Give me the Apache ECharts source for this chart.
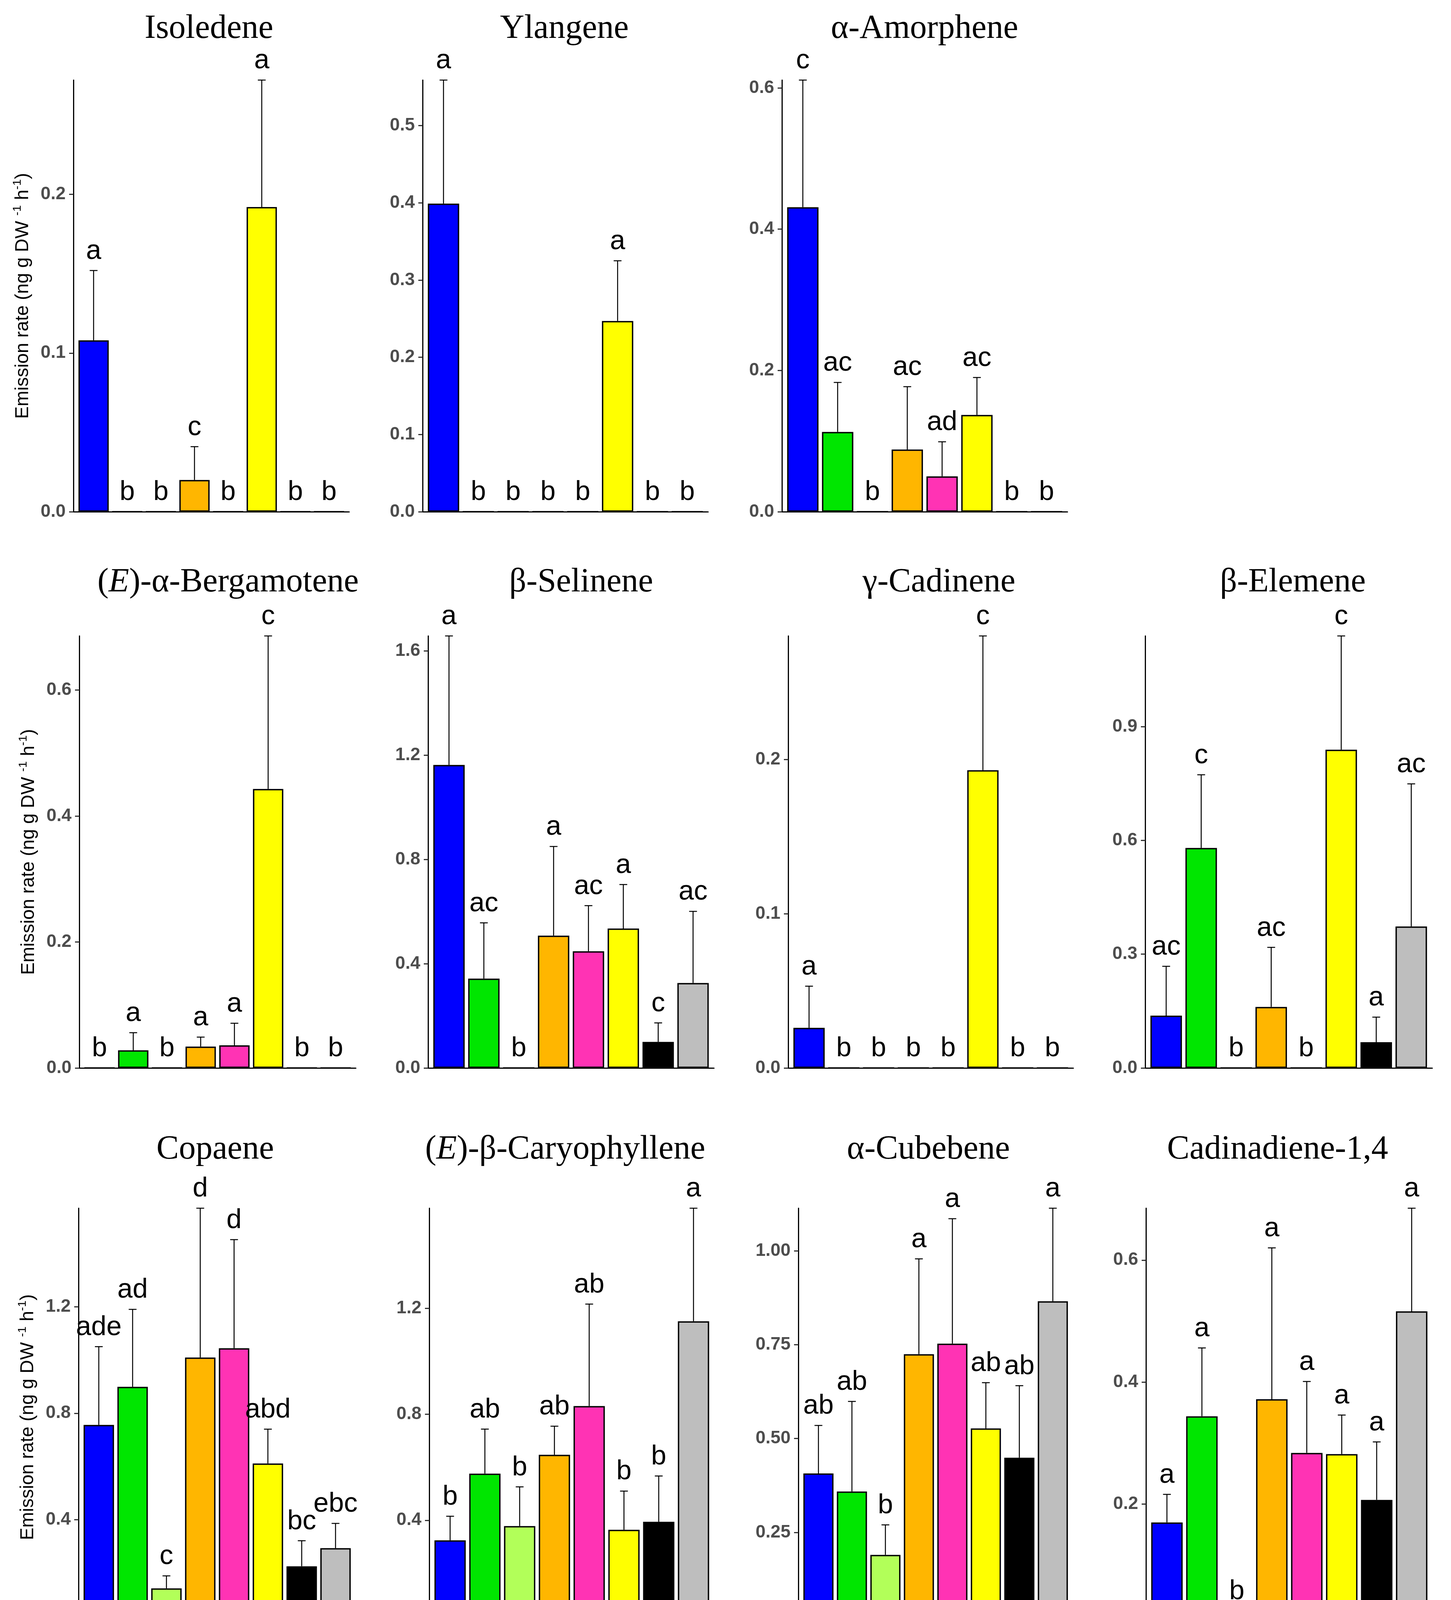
<!DOCTYPE html>
<html>
<head>
<meta charset="utf-8">
<script src="https://cdn.jsdelivr.net/npm/echarts@6/dist/echarts.min.js"></script>
<style>
  html, body { margin: 0; padding: 0; background: #fff; overflow: hidden; }
  #main { width: 3715px; height: 4482px; }
</style>
</head>
<body>
<div id="main"></div>
<script>
// ====== data ======
var categories = ['Blue', 'Lime green', 'Mint green', 'Orange', 'Pink', 'Yellow', 'CVT2', 'CVT4'];
var barColors = ['#0000FF', '#00E600', '#B2FF59', '#FFB600', '#FF33B4', '#FFFF00', '#000000', '#BEBEBE'];

var isoledeneMean = [0.108, 0, 0, 0.020, 0, 0.192, 0, 0];
var isoledeneSe = [0.044, 0, 0, 0.021, 0, 0.080, 0, 0];
var isoledeneLetters = ['a', 'b', 'b', 'c', 'b', 'a', 'b', 'b'];

var ylangeneMean = [0.399, 0, 0, 0, 0, 0.247, 0, 0];
var ylangeneSe = [0.160, 0, 0, 0, 0, 0.078, 0, 0];
var ylangeneLetters = ['a', 'b', 'b', 'b', 'b', 'a', 'b', 'b'];

var amorpheneMean = [0.431, 0.113, 0, 0.088, 0.050, 0.137, 0, 0];
var amorpheneSe = [0.180, 0.070, 0, 0.089, 0.049, 0.053, 0, 0];
var amorpheneLetters = ['c', 'ac', 'b', 'ac', 'ad', 'ac', 'b', 'b'];

var bergamoteneMean = [0, 0.028, 0, 0.034, 0.036, 0.443, 0, 0];
var bergamoteneSe = [0, 0.028, 0, 0.015, 0.035, 0.243, 0, 0];
var bergamoteneLetters = ['b', 'a', 'b', 'a', 'a', 'c', 'b', 'b'];

var selineneMean = [1.163, 0.343, 0, 0.508, 0.448, 0.535, 0.100, 0.326];
var selineneSe = [0.495, 0.214, 0, 0.342, 0.175, 0.169, 0.073, 0.275];
var selineneLetters = ['a', 'ac', 'b', 'a', 'ac', 'a', 'c', 'ac'];

var cadineneMean = [0.026, 0, 0, 0, 0, 0.193, 0, 0];
var cadineneSe = [0.027, 0, 0, 0, 0, 0.087, 0, 0];
var cadineneLetters = ['a', 'b', 'b', 'b', 'b', 'c', 'b', 'b'];

var elemeneMean = [0.138, 0.580, 0, 0.161, 0, 0.839, 0.068, 0.373];
var elemeneSe = [0.130, 0.193, 0, 0.157, 0, 0.300, 0.066, 0.376];
var elemeneLetters = ['ac', 'c', 'b', 'ac', 'b', 'c', 'a', 'ac'];

var copaeneMean = [0.756, 0.899, 0.142, 1.009, 1.044, 0.611, 0.225, 0.293];
var copaeneSe = [0.294, 0.291, 0.047, 0.561, 0.408, 0.129, 0.096, 0.093];
var copaeneLetters = ['ade', 'ad', 'c', 'd', 'd', 'abd', 'bc', 'ebc'];

var caryophylleneMean = [0.324, 0.576, 0.378, 0.647, 0.831, 0.364, 0.394, 1.151];
var caryophylleneSe = [0.091, 0.168, 0.148, 0.108, 0.385, 0.146, 0.173, 0.427];
var caryophylleneLetters = ['b', 'ab', 'b', 'ab', 'ab', 'b', 'b', 'a'];

var cubebeneMean = [0.407, 0.359, 0.190, 0.725, 0.753, 0.527, 0.449, 0.866];
var cubebeneSe = [0.128, 0.240, 0.080, 0.254, 0.333, 0.122, 0.192, 0.248];
var cubebeneLetters = ['ab', 'ab', 'b', 'a', 'a', 'ab', 'ab', 'a'];

var cadinadieneMean = [0.170, 0.344, 0.012, 0.372, 0.284, 0.282, 0.207, 0.516];
var cadinadieneSe = [0.046, 0.112, 0.013, 0.248, 0.117, 0.064, 0.095, 0.169];
var cadinadieneLetters = ['a', 'a', 'b', 'a', 'a', 'a', 'a', 'a'];

// y tick values
var ticksTenth = [0, 0.1, 0.2];
var ticksYlangene = [0, 0.1, 0.2, 0.3, 0.4, 0.5];
var ticksFifth = [0, 0.2, 0.4, 0.6];
var ticksSelinene = [0, 0.4, 0.8, 1.2, 1.6];
var ticksElemene = [0, 0.3, 0.6, 0.9];
var ticksCopaene = [0, 0.4, 0.8, 1.2];
var ticksCubebene = [0, 0.25, 0.5, 0.75, 1.0];

// ====== panels: data refs + layout (box = left, top, right, bottom; tpos = title centre) ======
var panels = [
  {title: 'Isoledene', mean: isoledeneMean, se: isoledeneSe, letters: isoledeneLetters, ticks: ticksTenth, dec: 1,
   box: [188, 205, 894, 1310], tpos: [535, 74], yTitle: true, xLabels: false},
  {title: 'Ylangene', mean: ylangeneMean, se: ylangeneSe, letters: ylangeneLetters, ticks: ticksYlangene, dec: 1,
   box: [1082, 205, 1813, 1310], tpos: [1445, 74], yTitle: false, xLabels: false},
  {title: 'α-Amorphene', mean: amorpheneMean, se: amorpheneSe, letters: amorpheneLetters, ticks: ticksFifth, dec: 1,
   box: [2002, 205, 2733, 1310], tpos: [2367, 74], yTitle: false, xLabels: false},

  {title: '({it|E})-α-Bergamotene', mean: bergamoteneMean, se: bergamoteneSe, letters: bergamoteneLetters, ticks: ticksFifth, dec: 1,
   box: [203, 1628, 911, 2734], tpos: [584, 1491], yTitle: true, xLabels: false},
  {title: 'β-Selinene', mean: selineneMean, se: selineneSe, letters: selineneLetters, ticks: ticksSelinene, dec: 1,
   box: [1096, 1628, 1828, 2734], tpos: [1488, 1491], yTitle: false, xLabels: false},
  {title: 'γ-Cadinene', mean: cadineneMean, se: cadineneSe, letters: cadineneLetters, ticks: ticksTenth, dec: 1,
   box: [2018, 1628, 2748, 2734], tpos: [2404, 1491], yTitle: false, xLabels: false},
  {title: 'β-Elemene', mean: elemeneMean, se: elemeneSe, letters: elemeneLetters, ticks: ticksElemene, dec: 1,
   box: [2932, 1628, 3667, 2734], tpos: [3310, 1491], yTitle: false, xLabels: false},

  {title: 'Copaene', mean: copaeneMean, se: copaeneSe, letters: copaeneLetters, ticks: ticksCopaene, dec: 1,
   box: [201, 3093, 911, 4163], tpos: [551, 2943], yTitle: true, xLabels: true},
  {title: '({it|E})-β-Caryophyllene', mean: caryophylleneMean, se: caryophylleneSe, letters: caryophylleneLetters, ticks: ticksCopaene, dec: 1,
   box: [1099, 3093, 1829, 4163], tpos: [1447, 2943], yTitle: false, xLabels: true},
  {title: 'α-Cubebene', mean: cubebeneMean, se: cubebeneSe, letters: cubebeneLetters, ticks: ticksCubebene, dec: 2,
   box: [2044, 3093, 2747, 4163], tpos: [2377, 2943], yTitle: false, xLabels: true},
  {title: 'Cadinadiene-1,4', mean: cadinadieneMean, se: cadinadieneSe, letters: cadinadieneLetters, ticks: ticksFifth, dec: 1,
   box: [2934, 3093, 3668, 4163], tpos: [3271, 2943], yTitle: false, xLabels: true}
];

var SANS = '"Liberation Sans", Arial, sans-serif';
var SERIF = '"Liberation Serif", "Times New Roman", serif';
var catIndex = categories.map(function (c, i) { return i; });

// 误差线 + 显著性字母
function makeErrorRenderer(p) {
  return function (params, api) {
    var i = api.value(0);
    var m = api.value(1);
    var e = api.value(2);
    var base = api.coord([i, m]);
    var top = api.coord([i, m + e]);
    var kids = [];
    if (e > 0) {
      kids.push({type: 'line', shape: {x1: base[0], y1: base[1], x2: top[0], y2: top[1]},
                 style: {stroke: '#000', lineWidth: 2.5}});
      kids.push({type: 'line', shape: {x1: top[0] - 10, y1: top[1], x2: top[0] + 10, y2: top[1]},
                 style: {stroke: '#000', lineWidth: 2.5}});
    }
    kids.push({type: 'text', style: {x: top[0], y: top[1] - 14, text: p.letters[params.dataIndex],
               align: 'center', verticalAlign: 'bottom', fill: '#000', fontSize: 70, fontFamily: SANS}});
    return {type: 'group', children: kids};
  };
}

var titles = [], grids = [], xAxes = [], yAxes = [], series = [];

panels.forEach(function (p, k) {
  var ymax = 0;
  p.mean.forEach(function (m, i) { ymax = Math.max(ymax, m + p.se[i]); });
  // ggplot discrete axis: 0.6 unit padding each side
  var unit = (p.box[2] - p.box[0]) / (categories.length + 0.2);

  titles.push({
    text: p.title,
    left: p.tpos[0], top: p.tpos[1],
    textAlign: 'center', textVerticalAlign: 'middle', padding: 0,
    textStyle: {
      fontFamily: SERIF, fontSize: 86, fontWeight: 'normal', color: '#000',
      rich: {it: {fontFamily: SERIF, fontSize: 86, fontStyle: 'italic', color: '#000'}}
    }
  });

  grids.push({left: p.box[0], top: p.box[1], width: p.box[2] - p.box[0], height: p.box[3] - p.box[1]});

  xAxes.push({
    type: 'value', gridIndex: k, min: -0.6, max: categories.length - 0.4,
    splitLine: {show: false},
    axisLine: {onZero: false, lineStyle: {color: '#000', width: 3}},
    axisTick: {show: p.xLabels, customValues: catIndex, length: 12, lineStyle: {color: '#333', width: 3}},
    axisLabel: {
      show: p.xLabels, customValues: catIndex, rotate: 90, align: 'center', verticalAlign: 'middle', margin: 151,
      formatter: function (v) { return categories[Math.round(v)]; },
      fontFamily: SANS, fontSize: 47, fontWeight: 'bold', color: '#4D4D4D'
    }
  });

  var yAxis = {
    type: 'value', gridIndex: k, min: 0, max: ymax,
    splitLine: {show: false},
    axisLine: {show: true, onZero: false, lineStyle: {color: '#000', width: 3}},
    axisTick: {show: true, length: 11, customValues: p.ticks, lineStyle: {color: '#333', width: 3}},
    axisLabel: {
      customValues: p.ticks, margin: 20,
      formatter: (function (d) { return function (v) { return v.toFixed(d); }; })(p.dec),
      fontFamily: SANS, fontSize: 46, fontWeight: 'bold', color: '#4D4D4D'
    }
  };
  if (p.yTitle) {
    yAxis.name = '{t|Emission rate (ng g DW }{s|-1}{t| h}{s|-1}{t|)}';
    yAxis.nameLocation = 'middle';
    yAxis.nameRotate = 90;
    yAxis.nameGap = 100;
    yAxis.nameTextStyle = {
      rich: {
        t: {fontFamily: SANS, fontSize: 48, color: '#000', lineHeight: 58},
        s: {fontFamily: SANS, fontSize: 30, color: '#000', lineHeight: 30, verticalAlign: 'top'}
      }
    };
  }
  yAxes.push(yAxis);

  series.push({
    type: 'bar', xAxisIndex: k, yAxisIndex: k,
    barWidth: unit * 0.9,
    data: p.mean.map(function (v, i) {
      return {value: [i, v], itemStyle: {color: barColors[i], borderColor: '#000', borderWidth: 3.5}};
    }),
    silent: true
  });

  series.push({
    type: 'custom', xAxisIndex: k, yAxisIndex: k, clip: false, z: 5, silent: true,
    renderItem: makeErrorRenderer(p),
    data: p.mean.map(function (v, i) { return [i, v, p.se[i]]; })
  });
});

var chart = echarts.init(document.getElementById('main'));
chart.setOption({
  backgroundColor: '#fff',
  animation: false,
  title: titles,
  grid: grids,
  xAxis: xAxes,
  yAxis: yAxes,
  series: series
});
</script>
</body>
</html>
